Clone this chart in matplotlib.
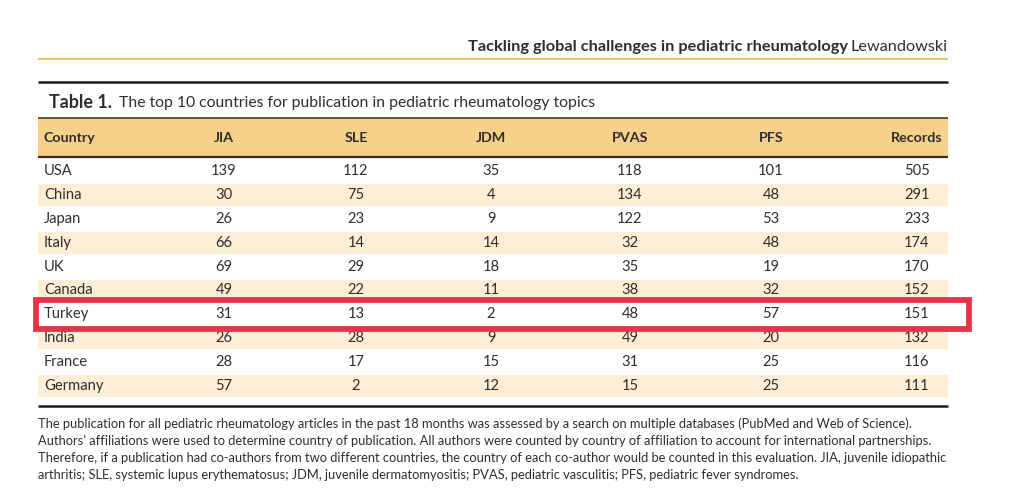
import matplotlib
matplotlib.use("Agg")
import matplotlib.pyplot as plt
from matplotlib.patches import Rectangle

# ---------------- data ----------------
columns = ["Country", "JIA", "SLE", "JDM", "PVAS", "PFS", "Records"]
countries = ["USA", "China", "Japan", "Italy", "UK", "Canada", "Turkey", "India", "France", "Germany"]
jia = [139, 30, 26, 66, 69, 49, 31, 26, 28, 57]
sle = [112, 75, 23, 14, 29, 22, 13, 28, 17, 2]
jdm = [35, 4, 9, 14, 18, 11, 2, 9, 15, 12]
pvas = [118, 134, 122, 32, 35, 38, 48, 49, 31, 15]
pfs = [101, 48, 53, 48, 19, 32, 57, 20, 25, 25]
records = [505, 291, 233, 174, 170, 152, 151, 132, 116, 111]
highlight = "Turkey"

running_bold = "Tackling global challenges in pediatric rheumatology"
running_reg = "Lewandowski"
title_bold = "Table 1."
title_reg = "The top 10 countries for publication in pediatric rheumatology topics"
footnote = [
    "The publication for all pediatric rheumatology articles in the past 18 months was assessed by a search on multiple databases (PubMed and Web of Science).",
    "Authors\u2019 affiliations were used to determine country of publication. All authors were counted by country of affiliation to account for international partnerships.",
    "Therefore, if a publication had co-authors from two different countries, the country of each co-author would be counted in this evaluation. JIA, juvenile idiopathic",
    "arthritis; SLE, systemic lupus erythematosus; JDM, juvenile dermatomyositis; PVAS, pediatric vasculitis; PFS, pediatric fever syndromes.",
]

# ---------------- style ----------------
FONT = ["Lato", "DejaVu Sans"]
TXT = "#2e2e2e"
HEAD_BG = "#f7d08a"
ALT_BG = "#fdeed5"
RED = "#e3364b"
GOLD = "#f2c56a"

W, H = 1024, 496
fig = plt.figure(figsize=(W / 100, H / 100), dpi=100)
ax = fig.add_axes([0, 0, 1, 1])
ax.set_xlim(0, W)
ax.set_ylim(H, 0)
ax.axis("off")
fig.canvas.draw()
renderer = fig.canvas.get_renderer()


def width_px(t):
    bb = t.get_window_extent(renderer=renderer)
    return bb.width


def fit_text(x, y, s, target_w, ha="left", **kw):
    t = ax.text(x, y, s, ha=ha, va="center", fontsize=10, family=FONT, color=TXT, **kw)
    w = width_px(t)
    t.set_fontsize(10 * target_w / w)
    return t


# running header
fit_text(948, 47, running_reg, 97, ha="right")
fit_text(848, 47, running_bold, 380, ha="right", fontweight="bold")
ax.plot([38, 948], [59, 59], color=GOLD, lw=1.6, solid_capstyle="butt")

# top rule
ax.plot([38, 948], [82, 82], color="#1a1a1a", lw=1.8, solid_capstyle="butt")

# title
fit_text(49, 102.5, title_bold, 63, fontweight="bold")
fit_text(119, 102.5, title_reg, 479)

# header band
left, right = 38, 948
ax.add_patch(Rectangle((left, 118), right - left, 39, facecolor=HEAD_BG, edgecolor="none"))
ax.plot([left, right], [118, 118], color="#5a4630", lw=1.3, solid_capstyle="butt")
ax.plot([left, right], [157, 157], color="#3a2e22", lw=1.6, solid_capstyle="butt")

col_x = [44, 224, 356, 491, 630, 771, 943]
col_ha = ["left", "center", "center", "center", "center", "center", "right"]
head_size = 10.3
for name, x, ha in zip(columns, col_x, col_ha):
    ax.text(x, 137.5, name, ha=ha, va="center", fontsize=head_size, fontweight="bold",
            family=FONT, color=TXT)

# body rows
row_y0 = 171
row_h = 23.9
val_x = [224, 356, 491, 630, 771, 917]
series = [jia, sle, jdm, pvas, pfs, records]
body_size = 10.6
for i, c in enumerate(countries):
    y = row_y0 + i * row_h
    if i % 2 == 1:
        ax.add_patch(Rectangle((left, y - row_h / 2 + 1), right - left, row_h - 2,
                               facecolor=ALT_BG, edgecolor="none", zorder=0))
    ax.text(44, y, c, ha="left", va="center", fontsize=body_size, family=FONT, color=TXT)
    for s, x in zip(series, val_x):
        ax.text(x, y, str(s[i]), ha="center", va="center", fontsize=body_size,
                family=FONT, color=TXT)
    if c == highlight:
        ax.add_patch(Rectangle((35.5, y - 14.5), 968.5 - 35.5, 29.5, facecolor="none",
                               edgecolor=RED, lw=4.2, zorder=5))

# bottom rule
ax.plot([left, right], [405.5, 405.5], color="#1a1a1a", lw=1.8, solid_capstyle="butt")

# footnote
t0 = ax.text(38, 424, footnote[0], ha="left", va="center", fontsize=10, family=FONT, color=TXT)
fs = 10 * 880 / width_px(t0)
t0.set_fontsize(fs)
for k, line in enumerate(footnote[1:], start=1):
    ax.text(38, 424 + k * 16.9, line, ha="left", va="center", fontsize=fs,
            family=FONT, color=TXT)

fig.savefig("out.png", dpi=100, facecolor="white")
